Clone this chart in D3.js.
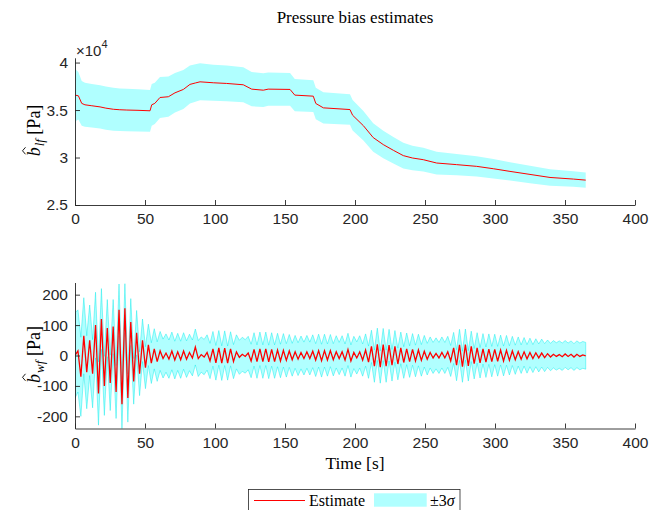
<!DOCTYPE html>
<html><head><meta charset="utf-8">
<script src="https://cdn.jsdelivr.net/npm/d3@7"></script>
<style>body{margin:0;background:#fff} svg{display:block}</style>
</head><body>
<svg id="chart" width="650" height="510"></svg>
<script>
// ---------- data ----------
const xTicks = [0, 50, 100, 150, 200, 250, 300, 350, 400];
const lfTicks = [2.5, 3, 3.5, 4];          // x 10^4 Pa
const wfTicks = [-200, -100, 0, 100, 200];  // Pa
const titleText = "Pressure bias estimates";
const legendLabels = ["Estimate", "\u00B13", "\u03C3"];

// low-frequency bias estimate (x 10^4 Pa) and its 3-sigma half width
const lfTime = [0, 0.7, 2.4, 4.8, 7.1, 12, 17.9, 22, 27.4, 32, 37, 45, 53.6, 54.8, 57, 60.7, 66.7, 71.4, 77.4, 82.1,
  86, 89.3, 98.8, 108.3, 120.2, 126.2, 134.5, 138, 153.6, 157, 170.2, 172, 177.4, 196.4, 198.3, 206, 213, 220.2, 227.4, 234.5,
  241, 248.8, 258.3, 272.6, 286.9, 298.8, 310.7, 325, 339.3, 356, 364.8];
const lfEst = [3.66, 3.655, 3.65, 3.57, 3.555, 3.545, 3.533, 3.52, 3.508, 3.503, 3.50, 3.497, 3.492, 3.555, 3.57, 3.632, 3.64, 3.681, 3.717, 3.77,
  3.785, 3.797, 3.787, 3.78, 3.766, 3.72, 3.709, 3.72, 3.717, 3.657, 3.646, 3.569, 3.523, 3.505, 3.445, 3.335, 3.21, 3.136, 3.076, 3.02,
  2.995, 2.977, 2.942, 2.925, 2.907, 2.882, 2.854, 2.822, 2.79, 2.773, 2.762];
const lf3s = [0.40, 0.27, 0.25, 0.235, 0.232, 0.23, 0.228, 0.227, 0.226, 0.225, 0.224, 0.222, 0.22, 0.22, 0.218, 0.215, 0.212, 0.208, 0.205, 0.2,
  0.197, 0.195, 0.19, 0.188, 0.185, 0.18, 0.178, 0.176, 0.172, 0.17, 0.167, 0.166, 0.165, 0.16, 0.16, 0.155, 0.15, 0.145, 0.14, 0.135,
  0.13, 0.125, 0.12, 0.113, 0.107, 0.102, 0.097, 0.092, 0.087, 0.082, 0.08];

// wave-frequency bias estimate (Pa): successive peaks/troughs, evenly spaced over 0..wfTEnd s
const wfTEnd = 364.8;
const wfEst = [0,15,-70,65,-55,50,-60,100,-125,120,
  -100,90,-90,95,-120,150,-160,155,-140,110,
  -85,75,-60,50,-40,35,-25,22,-20,15,
  -10,8,-12,15,-15,12,-14,15,-12,10,
  -8,28,-10,3,-5,10,-18,22,-24,25,
  -25,24,-25,22,-20,12,-6,4,-3,8,
  -18,20,-20,22,-20,22,-21,20,-20,18,
  -18,17,-16,15,-14,12,-12,10,-10,12,
  -10,14,-15,16,-17,16,-15,16,-14,12,
  -10,12,-15,20,-18,10,-8,12,-15,18,
  -22,30,-35,37,-38,36,-35,34,-32,30,
  -28,25,-23,22,-20,20,-18,18,-16,14,
  -12,10,-8,7,-8,10,-8,12,-18,25,
  -32,35,-37,36,-34,30,-27,25,-24,22,
  -22,21,-20,20,-19,18,-18,17,-16,15,
  -14,13,-12,12,-11,10,-10,9,-8,8,
  -7,6,-5,4,-3,3,-4,5,-3,4,
  -5,4,-3,2,-1];
const wf3s = [140,135,130,125,120,116,112,108,104,100,
  97,94,91,89,87,85,83,81,79,77,
  75,73,72,70,69,68,67,66,65,64,
  64,63,63,62,62,61,61,60,60,60,
  59,59,59,58,58,58,58,57,57,57,
  57,57,56,56,56,56,56,56,55,55,
  55,55,55,55,55,55,55,55,55,55,
  55,55,55,54,54,54,54,54,54,54,
  54,54,54,54,54,54,53,53,53,53,
  53,53,53,53,53,53,53,53,53,53,
  53,53,53,53,53,53,53,52,52,52,
  52,52,52,52,52,52,52,52,52,52,
  52,51,51,51,51,51,51,51,51,51,
  51,51,51,51,50,50,50,50,50,50,
  50,50,50,50,49,49,49,49,48,48,
  48,48,47,47,47,47,46,46,46,46,
  46,45,45,45,45,45,45,44,44,44,
  44,44,44,44,44];

// ---------- drawing ----------
const svg = d3.select("#chart");
const axisColor = "#262626";
const bandColor = "#b0ffff";
const sans = "'Liberation Sans', Arial, sans-serif";
const serif = "'Liberation Serif', 'Times New Roman', serif";

const x = d3.scaleLinear().domain([0, 400]).range([75, 635]);
const yTop = d3.scaleLinear().domain([2.5, 4.05]).range([205, 57.8]);
const yBot = d3.scaleLinear().domain([-240, 240]).range([428.5, 282.5]);

const lfData = lfTime.map((t, i) => ({t, v: lfEst[i], s: lf3s[i]}));
const wfStep = wfTEnd / (wfEst.length - 1);
const wfData = wfEst.map((v, i) => ({t: i * wfStep, v, s: wf3s[i]}));

const defs = svg.append("defs");
function clip(id, y) {
  const r = y.range();
  defs.append("clipPath").attr("id", id).append("rect")
    .attr("x", x.range()[0]).attr("y", Math.min(...r))
    .attr("width", x.range()[1] - x.range()[0]).attr("height", Math.abs(r[0] - r[1]));
}
clip("clipTop", yTop);
clip("clipBot", yBot);

function panel(data, y, clipId, yTicks, fmt, bandStroke, lineW) {
  const g = svg.append("g");
  const area = d3.area().x(d => x(d.t)).y0(d => y(d.v - d.s)).y1(d => y(d.v + d.s));
  const line = d3.line().x(d => x(d.t)).y(d => y(d.v));
  const pg = g.append("g").attr("clip-path", `url(#${clipId})`);
  pg.append("path").datum(data).attr("d", area).attr("fill", bandColor)
    .attr("stroke", bandStroke || "none").attr("stroke-width", 0.8);
  pg.append("path").datum(data).attr("d", line).attr("fill", "none").attr("stroke", "#ff0000").attr("stroke-width", lineW);

  const gx = g.append("g").attr("transform", `translate(0,${y.range()[0]})`)
    .call(d3.axisBottom(x).tickValues(xTicks).tickSizeInner(-5).tickSizeOuter(0).tickPadding(8).tickFormat(d => String(d)));
  const gy = g.append("g").attr("transform", `translate(${x.range()[0]},0)`)
    .call(d3.axisLeft(y).tickValues(yTicks).tickSizeInner(-5).tickSizeOuter(0).tickPadding(7).tickFormat(fmt));
  [gx, gy].forEach(a => {
    a.select(".domain").attr("stroke", axisColor).attr("stroke-width", 0.9);
    a.selectAll(".tick line").attr("stroke", axisColor).attr("stroke-width", 0.9);
    a.selectAll(".tick text").attr("fill", axisColor).style("font-family", sans).style("font-size", "15.5px");
  });
}
panel(lfData, yTop, "clipTop", lfTicks, d => String(d), null, 1);
panel(wfData, yBot, "clipBot", wfTicks, d => String(d), "rgba(0,235,235,0.55)", 1.3);

// title
svg.append("text").attr("x", 355).attr("y", 23).attr("text-anchor", "middle")
  .style("font-family", serif).style("font-size", "17px").attr("fill", "#000").text(titleText);

// exponent
const ex = svg.append("text").attr("x", 76).attr("y", 56).style("font-family", sans).style("font-size", "15px").attr("fill", axisColor);
ex.append("tspan").text("\u00D710");
ex.append("tspan").attr("dy", -8).style("font-size", "11px").text("4");

// y labels: b-hat with subscript, then [Pa]
function ylabel(cy, sub) {
  const g = svg.append("g").attr("transform", `translate(40,${cy}) rotate(-90)`);
  const t = g.append("text").style("font-family", serif).style("font-size", "18px").attr("fill", "#000");
  const b = t.append("tspan").style("font-style", "italic").text("b");
  t.append("tspan").style("font-style", "italic").style("font-size", "13px").attr("dy", 4).attr("dx", 1).text(sub);
  t.append("tspan").attr("dy", -4).text(" [Pa]");
  const w = t.node().getComputedTextLength();
  const bw = b.node().getComputedTextLength();
  t.attr("x", -w / 2);
  const cx = -w / 2 + bw * 0.62;
  g.append("path").attr("d", `M${cx - 3.5},-14.5L${cx},-17.5L${cx + 3.5},-14.5`)
    .attr("fill", "none").attr("stroke", "#000").attr("stroke-width", 0.9);
}
ylabel(131, "lf");
ylabel(355, "wf");

// x label
svg.append("text").attr("x", 355).attr("y", 469).attr("text-anchor", "middle")
  .style("font-family", serif).style("font-size", "17.5px").attr("fill", "#000").text("Time [s]");

// legend
const lg = svg.append("g");
lg.append("rect").attr("x", 248.5).attr("y", 489.5).attr("width", 211.5).attr("height", 30)
  .attr("fill", "#fff").attr("stroke", axisColor).attr("stroke-width", 0.8);
lg.append("line").attr("x1", 254).attr("x2", 305).attr("y1", 500.5).attr("y2", 500.5).attr("stroke", "#ff0000").attr("stroke-width", 1);
lg.append("text").attr("x", 309).attr("y", 505.5).style("font-family", serif).style("font-size", "16px").attr("fill", "#000").text(legendLabels[0]);
lg.append("rect").attr("x", 374).attr("y", 493.3).attr("width", 52.7).attr("height", 13.4).attr("fill", bandColor);
const pm = lg.append("text").attr("x", 430).attr("y", 505.5).style("font-family", serif).style("font-size", "16px").attr("fill", "#000");
pm.append("tspan").text(legendLabels[1]);
pm.append("tspan").style("font-style", "italic").text(legendLabels[2]);
</script>
</body></html>
